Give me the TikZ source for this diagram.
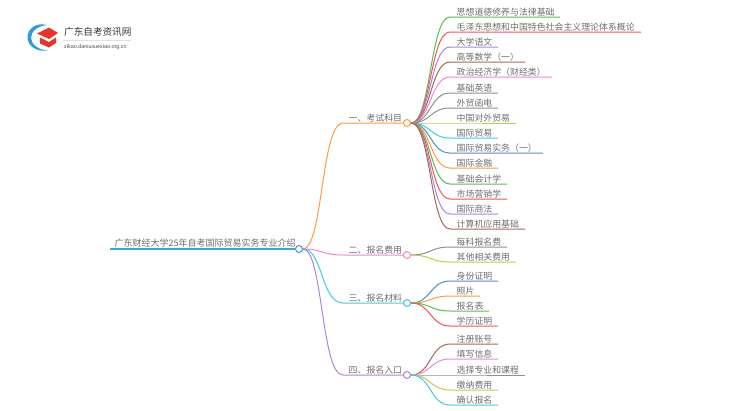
\documentclass[tikz,border=0pt]{standalone}
\usepackage{fontspec}
\setmainfont{Noto Sans CJK SC}
\newfontfamily\latinf{Liberation Sans}
\definecolor{cg}{HTML}{5CBB55}\definecolor{cr}{HTML}{EE5555}\definecolor{cp}{HTML}{AD85D8}
\definecolor{cb}{HTML}{A1675C}\definecolor{ck}{HTML}{EE88CC}\definecolor{cy}{HTML}{8F8F8F}
\definecolor{co}{HTML}{C8C84A}\definecolor{cc}{HTML}{3FCBDD}\definecolor{cl}{HTML}{4A90CC}
\definecolor{cn}{HTML}{FF9A40}\definecolor{txt}{HTML}{6E6E6E}
\definecolor{logoblue}{HTML}{2E9BDC}\definecolor{logored}{HTML}{E5352F}
\tikzset{
  every picture/.style={x=1pt,y=-1pt},
  dot/.style={circle,draw=#1,fill=white,line width=1pt,minimum size=7pt,inner sep=0pt},
  labeltext/.style={anchor=base west,inner sep=0pt,text=txt,font=\fontsize{8.9}{9}\selectfont},
  link/.style={draw=#1,line width=1pt},
}
\begin{document}
\begin{tikzpicture}
\useasboundingbox (0,0) rectangle (750,410);
% logo
\fill[logoblue] (47,25) .. controls (36,22) and (27,29) .. (27.5,38) .. controls (28,46) and (36,52) .. (48,50.5)
  .. controls (39,50) and (31.5,45) .. (31,38) .. controls (31,31) and (38,26) .. (47,25) -- cycle;
\fill[logored] (37,33.5) -- (49,27.5) -- (58,33) -- (49,39) -- cycle;
\fill[logored] (40,37.5) -- (49,42) -- (56,37.5) -- (56,43) -- (49,47.5) -- (40,43.5) -- cycle;
\node[anchor=base west,inner sep=0pt,text=black!80,font=\fontsize{9.6}{9.6}\selectfont] (logot) at (64,35.5) {广东自考资讯网};
\node[anchor=base west,inner sep=0pt,text=black!70,font=\latinf\fontsize{5.4}{5}\selectfont] (logos) at (64,48.5) {zikao.daniuxuexiao.org.cn};
\draw[black!12,line width=.5pt] (63,40) coordinate (la) -- (131,40) coordinate (lb);
% root
\node[dot=cl] (root) at (299,249) {};
\coordinate (rootend) at (110,249);
\draw[color=cl!70!cc,line width=1.8pt] (root.west) -- (rootend);
\node[labeltext,font=\fontsize{9}{9}\selectfont] (roott) at (114.5,246.5) {广东财经大学25年自考国际贸易实务专业介绍};
% branches
\foreach \n/\y/\c/\t in {1/123/cn/一、考试科目,2/255/ck/二、报名费用,3/303/cc/三、报名材料,4/375/cp/四、报名入口}{
  \node[dot=\c] (b\n) at (407,\y) {};
  \coordinate (bk\n) at (343,\y);
  \draw[link=\c] (root.east) .. controls +(20,0) and +(-22,0) .. (bk\n) -- (b\n.west);
  \node[labeltext] (bt\n) at (348.5,\y-2) {\t};
}
% leaves
\foreach \n/\p/\y/\e/\c/\t in {
 1/1/17/560/cg/思想道德修养与法律基础,
 2/1/32/641/cr/毛泽东思想和中国特色社会主义理论体系概论,
 3/1/47/498/cp/大学语文,
 4/1/62/525/cb/高等数学（一）,
 5/1/77/552/ck/政治经济学（财经类）,
 6/1/93/498/cy/基础英语,
 7/1/108/498/cy/外贸函电,
 8/1/123/516/co/中国对外贸易,
 9/1/138/498/cc/国际贸易,
 10/1/153/543/cl/国际贸易实务（一）,
 11/1/168/498/cn/国际金融,
 12/1/184/507/cg/基础会计学,
 13/1/199/507/cr/市场营销学,
 14/1/214/498/cp/国际商法,
 15/1/229/525/cb/计算机应用基础,
 16/2/247/507/cy/每科报名费,
 17/2/262/516/co/其他相关费用,
 18/3/281/498/cl/身份证明,
 19/3/296/480/cn/照片,
 20/3/311/489/cg/报名表,
 21/3/326/498/cr/学历证明,
 22/4/344/498/cb/注册账号,
 23/4/359/498/ck/填写信息,
 24/4/375/525/cy/选择专业和课程,
 25/4/390/498/co/缴纳费用,
 26/4/405/498/cc/确认报名}{
  \node[labeltext] (l\n) at (456.5,\y-2) {\t};
  \coordinate (k\n) at (450,\y);
  \coordinate (e\n) at (\e,\y);
  \draw[link=\c] (b\p.east) .. controls +(20,0) and +(-20,0) .. (k\n) -- (e\n);
}
\end{tikzpicture}
\end{document}
